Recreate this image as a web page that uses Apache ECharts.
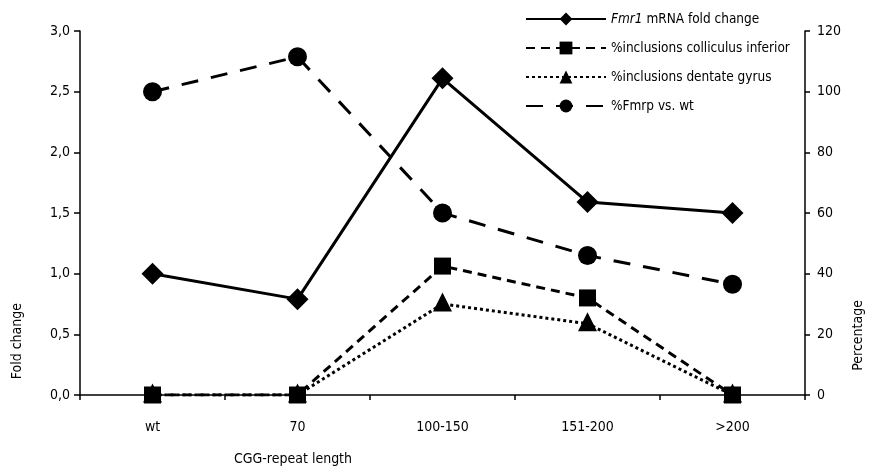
<!DOCTYPE html>
<html>
<head>
<meta charset="utf-8">
<script src="https://cdn.jsdelivr.net/npm/echarts@6/dist/echarts.min.js"></script>
<style>html,body{margin:0;padding:0;background:#fff;}#c{width:873px;height:469px;}</style>
</head>
<body>
<div id="c"></div>
<script>
const categories = ['wt', '70', '100-150', '151-200', '>200'];
const fmr1Fold = [1.0, 0.79, 2.61, 1.59, 1.5];
const inclColliculus = [0, 0, 42.5, 32, 0];
const inclDentate = [0, 0, 30, 23.5, 0];
const fmrpVsWt = [100, 111.5, 60, 46, 36.5];
const names = ['Fmr1 mRNA fold change', '%inclusions colliculus inferior', '%inclusions dentate gyrus', '%Fmrp vs. wt'];

const FONT = '"Liberation Sans Narrow", "DejaVu Sans Condensed", sans-serif';
const FS = 14;
const LFS = 13.5;
const chart = echarts.init(document.getElementById('c'));
const axisLine = { show: true, lineStyle: { color: '#000', width: 1.5 } };
chart.setOption({
  animation: false,
  backgroundColor: '#fff',
  textStyle: { fontFamily: FONT, color: '#000' },
  grid: { left: 80, right: 68, top: 31, bottom: 74, containLabel: false, outerBoundsMode: 'none' },
  legend: {
    orient: 'vertical', left: 520, top: 7,
    itemWidth: 80, itemHeight: 16, itemGap: 15,
    data: names,
    textStyle: { fontFamily: FONT, fontSize: LFS, color: '#000',
      rich: { i: { fontStyle: 'italic', fontFamily: FONT, fontSize: LFS, color: '#000' }, n: { fontFamily: FONT, fontSize: LFS, color: '#000' } } },
    formatter: function (n) { return n === names[0] ? '{i|Fmr1}{n| mRNA fold change}' : n; }
  },
  xAxis: {
    type: 'category', data: categories, boundaryGap: true,
    axisLine: axisLine,
    axisTick: { show: true, length: 5, lineStyle: { color: '#000', width: 1.5 } },
    axisLabel: { fontFamily: FONT, fontSize: FS, color: '#000', margin: 25 }
  },
  yAxis: [{
    type: 'value', min: 0, max: 3, interval: 0.5,
    axisLine: axisLine, splitLine: { show: false },
    axisTick: { show: true, length: 6, lineStyle: { color: '#000', width: 1.5 } },
    axisLabel: { fontFamily: FONT, fontSize: FS, color: '#000', margin: 10,
      formatter: v => v.toFixed(1).replace('.', ',') }
  }, {
    type: 'value', min: 0, max: 120, interval: 20, position: 'right',
    axisLine: axisLine, splitLine: { show: false },
    axisTick: { show: true, length: 5, lineStyle: { color: '#000', width: 1.5 } },
    axisLabel: { fontFamily: FONT, fontSize: FS, color: '#000', margin: 12 }
  }],
  graphic: [
    { type: 'text', left: 10, top: 303, rotation: Math.PI / 2,
      style: { text: 'Fold change', font: FS + 'px ' + FONT, fill: '#000' } },
    { type: 'text', left: 851, top: 300, rotation: Math.PI / 2,
      style: { text: 'Percentage', font: FS + 'px ' + FONT, fill: '#000' } },
    { type: 'text', left: 234, top: 452,
      style: { text: 'CGG-repeat length', font: FS + 'px ' + FONT, fill: '#000' } }
  ],
  series: [
    { name: names[0], type: 'line', yAxisIndex: 0, data: fmr1Fold,
      symbol: 'diamond', symbolSize: 22, z: 5,
      lineStyle: { color: '#000', width: 3, type: 'solid' }, itemStyle: { color: '#000' } },
    { name: names[1], type: 'line', yAxisIndex: 1, data: inclColliculus,
      symbol: 'rect', symbolSize: 17, z: 4,
      lineStyle: { color: '#000', width: 3, type: [9, 6] }, itemStyle: { color: '#000' } },
    { name: names[2], type: 'line', yAxisIndex: 1, data: inclDentate,
      symbol: 'triangle', symbolSize: 19, symbolOffset: [0, -2], z: 3,
      lineStyle: { color: '#000', width: 3, type: [3, 3] }, itemStyle: { color: '#000' } },
    { name: names[3], type: 'line', yAxisIndex: 1, data: fmrpVsWt,
      symbol: 'circle', symbolSize: 19, z: 2,
      lineStyle: { color: '#000', width: 3, type: [17, 13] }, itemStyle: { color: '#000' } }
  ]
});
</script>
</body>
</html>
